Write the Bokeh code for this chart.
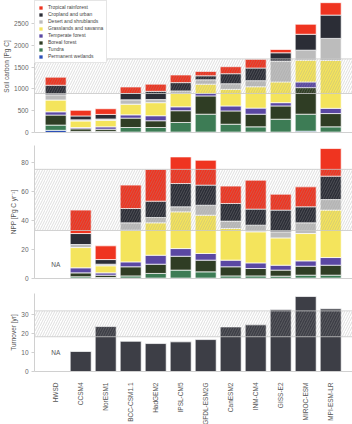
import math
import numpy as np
from bokeh.plotting import figure
from bokeh.layouts import column
from bokeh.models import (ColumnDataSource, FixedTicker, Legend, LegendItem)
from bokeh.core.properties import value
from bokeh.embed import file_html
from bokeh.resources import INLINE

models = ["HWSD", "CCSM4", "NorESM1", "BCC-CSM1.1", "HadGEM2", "IPSL-CM5",
          "GFDL-ESM2G", "CanESM2", "INM-CM4", "GISS-E2", "MIROC-ESM", "MPI-ESM-LR"]

biomes = ["Permanent wetlands", "Tundra", "Boreal forest", "Temperate forest",
          "Grasslands and savanna", "Desert and shrublands", "Cropland and urban",
          "Tropical rainforest"]
colors = ["#2c50b8", "#3d7c55", "#2f3d24", "#5a47a3", "#f4e45c", "#bcbcbc",
          "#2b2d36", "#ef3420"]

# Soil carbon [Pg C]
wetlands_soil = [50, 5, 5, 10, 10, 10, 10, 10, 10, 10, 30, 10]
tundra_soil = [120, 20, 20, 105, 105, 220, 410, 180, 120, 295, 390, 120]
boreal_soil = [230, 60, 50, 215, 155, 270, 420, 305, 290, 305, 610, 305]
temperate_soil = [75, 30, 55, 75, 115, 90, 55, 115, 140, 75, 130, 120]
grass_soil = [270, 150, 150, 245, 300, 305, 215, 380, 490, 475, 500, 1100]
desert_soil = [120, 25, 30, 100, 70, 60, 100, 130, 140, 480, 230, 505]
crop_soil = [220, 90, 105, 145, 190, 190, 92, 230, 290, 190, 365, 535]
tropical_soil = [185, 130, 130, 150, 165, 175, 100, 160, 200, 75, 230, 285]

# NPP [Pg C / yr]  (HWSD: NA)
nan = float("nan")
wetlands_npp = [nan, 0.2, 0.2, 0.3, 0.3, 0.3, 0.3, 0.2, 0.2, 0.2, 0.3, 0.3]
tundra_npp = [nan, 1.0, 0.5, 1.5, 3.2, 5.5, 4.3, 1.6, 1.6, 1.4, 2.0, 2.0]
boreal_npp = [nan, 2.7, 1.6, 6.3, 6.4, 9.6, 8.1, 6.3, 5.1, 4.2, 6.2, 6.9]
temperate_npp = [nan, 3.5, 1.6, 3.4, 6.2, 5.3, 4.6, 4.6, 3.9, 3.4, 3.7, 5.3]
grass_npp = [nan, 14.0, 4.9, 21.9, 22.4, 25.4, 26.5, 21.9, 21.5, 18.9, 18.9, 32.8]
desert_npp = [nan, 2.1, 1.1, 5.1, 3.7, 3.5, 6.9, 5.1, 4.6, 4.2, 7.4, 7.3]
crop_npp = [nan, 7.6, 3.2, 9.9, 11.3, 16.1, 13.9, 12.2, 11.1, 15.0, 11.1, 16.2]
tropical_npp = [nan, 16.2, 9.5, 16.2, 21.9, 18.4, 17.2, 12.0, 20.0, 11.0, 13.8, 19.1]

# Turnover [yr]
turnover = [nan, 10.6, 23.8, 16.0, 14.8, 15.7, 16.9, 23.6, 24.7, 32.8, 39.7, 33.2]

# Observational ranges (hatched)
soil_band = (895, 1690)
npp_band = (33.2, 75.5)
turnover_band = (18.4, 32.1)

soil_ticks = [0, 500, 1000, 1500, 2000, 2500]
npp_ticks = [0, 20, 40, 60, 80]
turnover_ticks = [0, 10, 20, 30]

FONT = "Liberation Sans"
xs = list(range(len(models)))
X0, X1 = -0.848, 11.872
BW = 0.84


def style(p, ylabel, yticks):
    p.outline_line_color = None
    p.xgrid.grid_line_color = None
    p.ygrid.grid_line_color = None
    p.background_fill_color = "white"
    p.border_fill_color = "white"
    ya = p.yaxis[0]
    ya.ticker = FixedTicker(ticks=yticks)
    ya.axis_label = ylabel
    ya.axis_label_text_font = FONT
    ya.axis_label_text_font_size = "6.5px"
    ya.axis_label_text_font_style = "normal"
    ya.axis_label_text_color = "#555555"
    ya.axis_label_standoff = 1
    ya.major_label_text_font = FONT
    ya.major_label_text_font_size = "6.5px"
    ya.major_label_text_color = "#666666"
    ya.major_label_standoff = 3
    ya.axis_line_color = "#d0d0d0"
    ya.major_tick_line_color = "#d0d0d0"
    ya.major_tick_out = 3
    ya.major_tick_in = 0
    ya.minor_tick_line_color = None
    xa = p.xaxis[0]
    xa.axis_line_color = "#d0d0d0"
    xa.minor_tick_line_color = None
    xa.major_tick_line_color = None


def band(p, lo, hi):
    p.quad(left=X0, right=X1, bottom=lo, top=hi, fill_alpha=0,
           hatch_pattern="/", hatch_color="#9a9a9a", hatch_alpha=0.55,
           hatch_scale=5, hatch_weight=0.6,
           line_color="#c8c8c8", line_width=0.8)


def blank_x(p):
    xa = p.xaxis[0]
    xa.ticker = FixedTicker(ticks=[])
    xa.major_label_text_font_size = "0px"
    xa.major_label_standoff = 0


# ---------- Panel 1: soil carbon ----------
soil = [wetlands_soil, tundra_soil, boreal_soil, temperate_soil,
        grass_soil, desert_soil, crop_soil, tropical_soil]
src1 = ColumnDataSource(dict(x=xs, **{b: v for b, v in zip(biomes, soil)}))
p1 = figure(frame_width=318, frame_height=132, min_border_left=30,
            min_border_right=4, min_border_top=0, min_border_bottom=8,
            x_range=(X0, X1), y_range=(0, 3030),
            output_backend="svg", toolbar_location=None)
r1 = p1.vbar_stack(biomes, x="x", width=BW, source=src1, color=colors,
                   line_color="white", line_width=0.7)
band(p1, *soil_band)
style(p1, "Soil carbon [Pg C]", soil_ticks)
blank_x(p1)
items = [LegendItem(label=b, renderers=[r]) for b, r in zip(biomes, r1)][::-1]
leg = Legend(items=items, location="top_left", margin=0, padding=3,
             spacing=1, label_height=6, glyph_height=5, glyph_width=5,
             label_standoff=5, label_text_font=FONT,
             label_text_font_size="5px", label_text_color="#444444",
             border_line_color="#cccccc", border_line_width=0.8,
             background_fill_alpha=1)
p1.add_layout(leg)

# ---------- Panel 2: NPP ----------
npp = [wetlands_npp, tundra_npp, boreal_npp, temperate_npp,
       grass_npp, desert_npp, crop_npp, tropical_npp]
src2 = ColumnDataSource(dict(x=xs, **{b: list(np.nan_to_num(np.array(v)))
                                      for b, v in zip(biomes, npp)}))
p2 = figure(frame_width=318, frame_height=133, min_border_left=30,
            min_border_right=4, min_border_top=5, min_border_bottom=8,
            x_range=(X0, X1), y_range=(0, 92),
            output_backend="svg", toolbar_location=None)
p2.vbar_stack(biomes, x="x", width=BW, source=src2, color=colors,
              line_color="white", line_width=0.7)
band(p2, *npp_band)
p2.text(x=[0], y=[10], text=["NA"], text_align="center",
        text_baseline="middle", text_font=value(FONT),
        text_font_size="6.5px", text_color="#555555")
style(p2, "NPP [Pg C yr\u207b\u00b9]", npp_ticks)
blank_x(p2)

# ---------- Panel 3: turnover ----------
src3 = ColumnDataSource(dict(x=xs, t=turnover))
p3 = figure(frame_width=318, frame_height=78, min_border_left=30,
            min_border_right=4, min_border_top=7, min_border_bottom=51,
            x_range=(X0, X1), y_range=(0, 41.3),
            output_backend="svg", toolbar_location=None)
p3.vbar(x="x", top="t", width=BW, source=src3, color="#3d3e46",
        line_color="white", line_width=0.7)
band(p3, *turnover_band)
p3.text(x=[0], y=[10], text=["NA"], text_align="center",
        text_baseline="middle", text_font=value(FONT),
        text_font_size="6.5px", text_color="#555555")
style(p3, "Turnover [yr]", turnover_ticks)
xa = p3.xaxis[0]
xa.ticker = FixedTicker(ticks=xs)
xa.major_label_overrides = {i: m for i, m in enumerate(models)}
xa.major_label_orientation = math.pi / 2
xa.major_label_text_font = FONT
xa.major_label_text_font_size = "6.5px"
xa.major_label_text_color = "#555555"
xa.major_label_standoff = 5

layout = column(p1, p2, p3, spacing=0)
open("out.html", "w").write(file_html(layout, INLINE))
